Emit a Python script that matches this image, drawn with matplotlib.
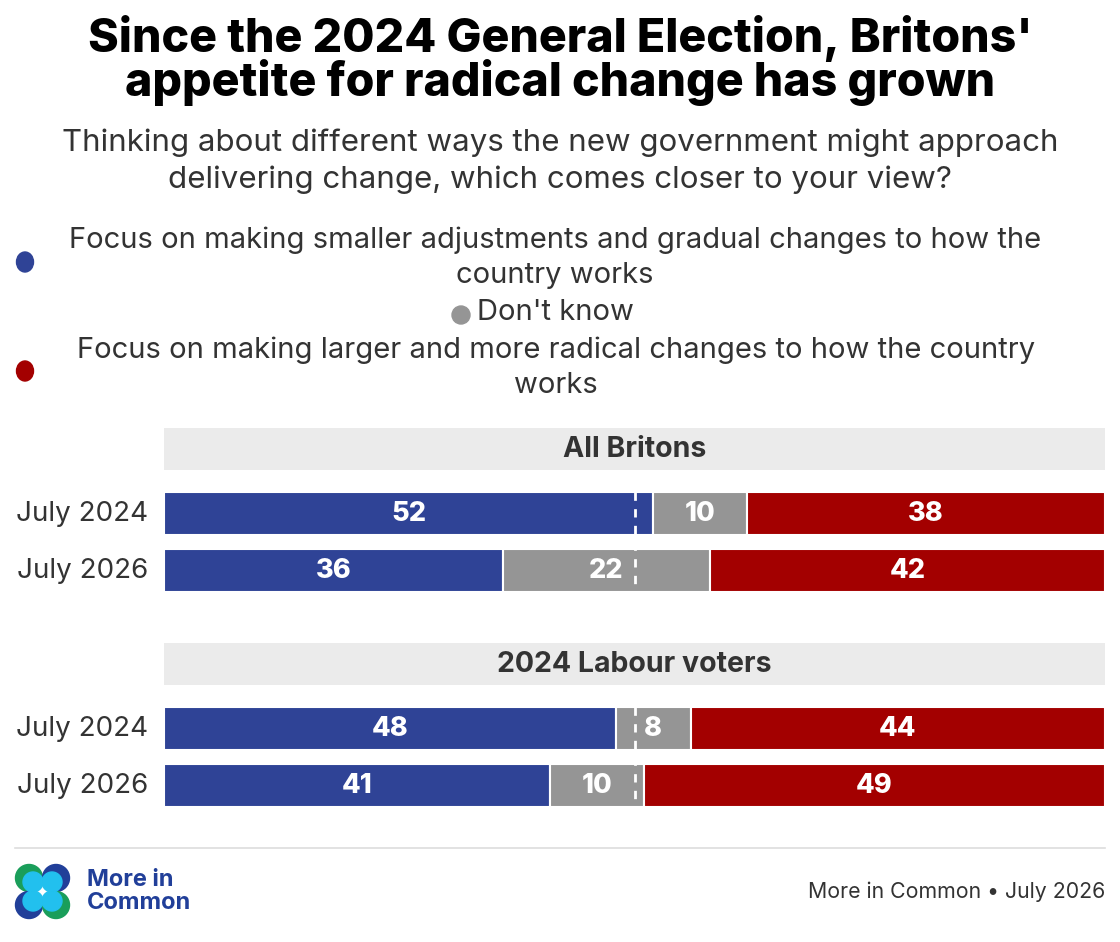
import matplotlib.pyplot as plt
from matplotlib.patches import Ellipse, Circle
import numpy as np

plt.rcParams['font.family'] = ['Inter', 'DejaVu Sans']

waves = ['July 2024', 'July 2026']
panels = ['All Britons', '2024 Labour voters']
smaller = [[52, 36], [48, 41]]
dont_know = [[10, 22], [8, 10]]
larger = [[38, 42], [44, 49]]

series_names = ['Focus on making smaller adjustments and gradual changes to how the\ncountry works',
                "Don't know",
                'Focus on making larger and more radical changes to how the country\nworks']
colors = ['#2F4396', '#959595', '#A30000']
text_col = '#333333'

W, H = 1120, 942
fig = plt.figure(figsize=(W / 100, H / 100), dpi=100)

# overlay in pixel coords for titles, legend, footer
bg = fig.add_axes([0, 0, 1, 1])
bg.set_xlim(0, W)
bg.set_ylim(H, 0)
bg.axis('off')

bg.text(560, 38, "Since the 2024 General Election, Britons'", ha='center', va='center',
        fontsize=33.5, fontweight='heavy', color='black')
bg.text(560, 83, "appetite for radical change has grown", ha='center', va='center',
        fontsize=33.5, fontweight='heavy', color='black')
bg.text(560, 143, "Thinking about different ways the new government might approach", ha='center',
        va='center', fontsize=22.5, color=text_col)
bg.text(560, 180, "delivering change, which comes closer to your view?", ha='center',
        va='center', fontsize=22.5, color=text_col)

# legend
bg.add_patch(Ellipse((25, 262), 17, 20, color=colors[0]))
bg.text(555, 258, series_names[0], ha='center', va='center', fontsize=21,
        color=text_col, linespacing=1.38)
bg.add_patch(Ellipse((461, 315), 18, 18, color=colors[1]))
bg.text(477, 313, series_names[1], ha='left', va='center', fontsize=21, color=text_col)
bg.add_patch(Ellipse((25, 371), 17, 20, color=colors[2]))
bg.text(556, 368, series_names[2], ha='center', va='center', fontsize=21,
        color=text_col, linespacing=1.38)

# footer
bg.plot([15, 1105], [848, 848], color='#DDDDDD', lw=1.2)
logo = [((29, 878), '#1A9E5A'), ((56, 878), '#213F99'), ((29, 905), '#213F99'), ((56, 905), '#1A9E5A')]
for (cx, cy), c in logo:
    bg.add_patch(Circle((cx, cy), 13.5, color=c))
for (cx, cy), c in logo:
    dx = 4 if cx < 43 else -4
    dy = 4 if cy < 892 else -4
    bg.add_patch(Circle((cx + dx, cy + dy), 10, color='#22C0EE'))
bg.text(87, 880, 'More in', ha='left', va='center', fontsize=17, fontweight='bold', color='#213F99')
bg.text(87, 903, 'Common', ha='left', va='center', fontsize=17, fontweight='bold', color='#213F99')
bg.text(1105, 892, 'More in Common \u2022 July 2026', ha='right', va='center', fontsize=15.3,
        color=text_col)

# bar panels
panel_tops = [428, 643]
span = 164
for p, top in enumerate(panel_tops):
    ax = fig.add_axes([164 / W, (H - top - span) / H, 941 / W, span / H])
    ax.set_xlim(0, 100)
    ax.set_ylim(1.377, -1.5)
    ax.axis('off')
    ax.barh(-1.13, 100, height=0.737, left=0, color='#EBEBEB')
    ax.text(50, -1.13, panels[p], ha='center', va='center', fontsize=20.5,
            fontweight='bold', color=text_col)
    y = np.arange(len(waves))
    left = np.zeros(len(waves))
    for vals, c in zip([smaller[p], dont_know[p], larger[p]], colors):
        vals = np.array(vals)
        ax.barh(y, vals, left=left, height=0.754, color=c, edgecolor='white', linewidth=1.5)
        for yi, l, v in zip(y, left, vals):
            ax.text(l + v / 2, yi, str(v), ha='center', va='center', fontsize=19.5,
                    fontweight='heavy', color='white')
        left += vals
    ax.vlines(50, -0.377, 1.377, colors='white', linestyles=(0, (3, 3)), lw=2)
    for yi, w in zip(y, waves):
        ax.text(-1.7, yi, w, ha='right', va='center', fontsize=20, color=text_col)

fig.savefig('out.png', dpi=100)
